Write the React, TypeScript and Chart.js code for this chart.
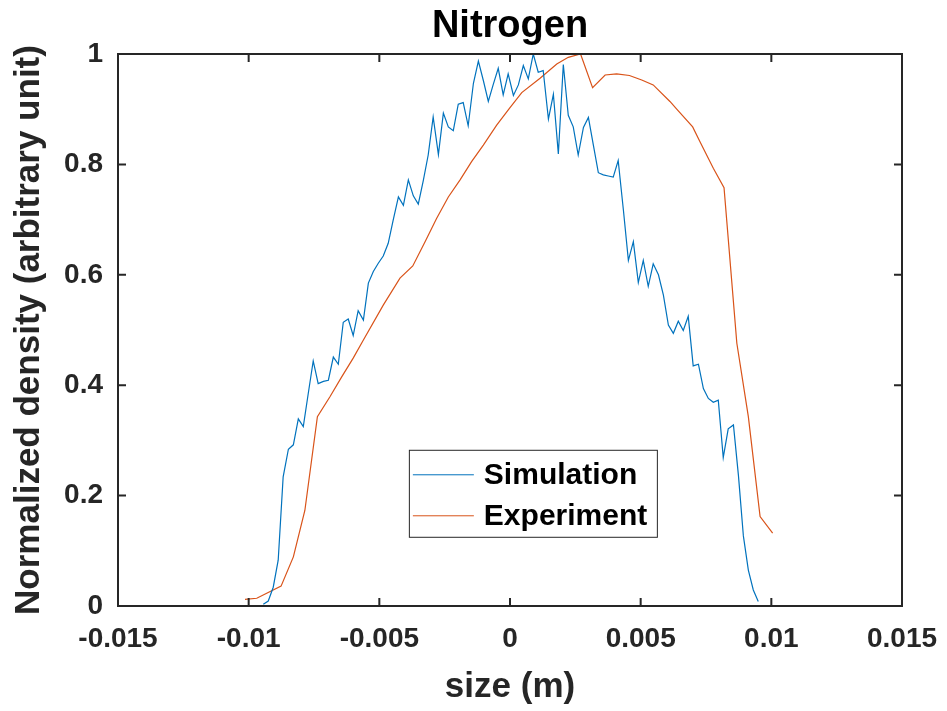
import React, { useEffect, useRef } from "react";
import { Chart, registerables } from "chart.js";

Chart.register(...registerables);

const titleText = "Nitrogen";
const xAxisTitle = "size (m)";
const yAxisTitle = "Normalized density (arbitrary unit)";
const seriesNames = ["Simulation", "Experiment"];
const seriesColors = ["#0072BD", "#D95319"];

const xTickValues = [-0.015, -0.01, -0.005, 0, 0.005, 0.01, 0.015];
const xTickLabels = ["-0.015", "-0.01", "-0.005", "0", "0.005", "0.01", "0.015"];
const yTickValues = [0, 0.2, 0.4, 0.6, 0.8, 1];
const yTickLabels = ["0", "0.2", "0.4", "0.6", "0.8", "1"];

const simX = [
  -0.00944, -0.00925, -0.00906, -0.00887, -0.00868, -0.00848, -0.00829, -0.0081, -0.00791, -0.00772,
  -0.00753, -0.00734, -0.00714, -0.00695, -0.00676, -0.00657, -0.00638, -0.00619, -0.006, -0.00581,
  -0.00561, -0.00542, -0.00523, -0.00504, -0.00485, -0.00466, -0.00447, -0.00427, -0.00408, -0.00389,
  -0.0037, -0.00351, -0.00332, -0.00313, -0.00294, -0.00274, -0.00255, -0.00236, -0.00217, -0.00198,
  -0.00179, -0.0016, -0.0014, -0.00121, -0.00102, -0.00083, -0.00064, -0.00045, -0.00026, -0.00007,
  0.00013, 0.00032, 0.00051, 0.0007, 0.00089, 0.00108, 0.00127, 0.00147, 0.00166, 0.00185,
  0.00204, 0.00223, 0.00242, 0.00261, 0.00281, 0.003, 0.00319, 0.00338, 0.00357, 0.00376,
  0.00395, 0.00414, 0.00434, 0.00453, 0.00472, 0.00491, 0.0051, 0.00529, 0.00548, 0.00568,
  0.00587, 0.00606, 0.00625, 0.00644, 0.00663, 0.00682, 0.00701, 0.00721, 0.0074, 0.00759,
  0.00778, 0.00797, 0.00816, 0.00835, 0.00855, 0.00874, 0.00893, 0.00912, 0.00931, 0.0095,
];
const simY = [
  0.003, 0.009, 0.034, 0.083, 0.234, 0.284, 0.292, 0.339, 0.325, 0.385,
  0.444, 0.403, 0.407, 0.409, 0.451, 0.438, 0.514, 0.52, 0.49, 0.535,
  0.518, 0.585, 0.606, 0.621, 0.634, 0.657, 0.699, 0.741, 0.726, 0.772,
  0.743, 0.728, 0.77, 0.817, 0.886, 0.818, 0.893, 0.868, 0.861, 0.909,
  0.912, 0.87, 0.947, 0.987, 0.952, 0.914, 0.945, 0.974, 0.926, 0.964,
  0.925, 0.944, 0.979, 0.955, 1.0, 0.967, 0.97, 0.882, 0.927, 0.819,
  0.981, 0.889, 0.868, 0.817, 0.867, 0.885, 0.835, 0.785, 0.781, 0.779,
  0.777, 0.807, 0.717, 0.626, 0.66, 0.586, 0.626, 0.579, 0.62, 0.6,
  0.563, 0.509, 0.494, 0.516, 0.499, 0.525, 0.435, 0.438, 0.394, 0.376,
  0.369, 0.373, 0.269, 0.321, 0.328, 0.237, 0.127, 0.065, 0.029, 0.008,
];

const expX = [
  -0.01014, -0.00969, -0.00876, -0.00829, -0.00785, -0.00737, -0.00689, -0.00644, -0.006, -0.00561,
  -0.00485, -0.00421, -0.00372, -0.00325, -0.00281, -0.00236, -0.00191, -0.00147, -0.00102, -0.00051,
  0.0, 0.00045, 0.00115, 0.00179, 0.00223, 0.0027, 0.00316, 0.00364, 0.00408, 0.00457,
  0.00504, 0.00548, 0.00612, 0.00638, 0.00699, 0.00727, 0.00778, 0.00819, 0.00868, 0.00912,
  0.00957, 0.01005,
];
const expY = [
  0.012, 0.014, 0.036, 0.089, 0.173, 0.343, 0.379, 0.415, 0.449, 0.482,
  0.545, 0.594, 0.616, 0.66, 0.702, 0.741, 0.772, 0.805, 0.835, 0.871,
  0.903, 0.93, 0.956, 0.982, 0.994, 1.0, 0.939, 0.962, 0.964, 0.961,
  0.953, 0.944, 0.914, 0.9, 0.868, 0.841, 0.793, 0.758, 0.476, 0.343,
  0.162, 0.132,
];

const FONT = "'Liberation Sans', Arial, Helvetica, sans-serif";
const AXIS_COLOR = "#262626";

const framePlugin = {
  id: "matlabFrame",
  afterDatasetsDraw(chart: any) {
    const { ctx, chartArea: a, scales } = chart;
    const tick = 8;
    ctx.save();
    ctx.strokeStyle = AXIS_COLOR;
    ctx.lineWidth = 2;
    ctx.strokeRect(a.left, a.top, a.right - a.left, a.bottom - a.top);
    ctx.beginPath();
    for (const v of xTickValues) {
      const px = scales.x.getPixelForValue(v);
      ctx.moveTo(px, a.bottom);
      ctx.lineTo(px, a.bottom - tick);
      ctx.moveTo(px, a.top);
      ctx.lineTo(px, a.top + tick);
    }
    for (const v of yTickValues) {
      const py = scales.y.getPixelForValue(v);
      ctx.moveTo(a.left, py);
      ctx.lineTo(a.left + tick, py);
      ctx.moveTo(a.right, py);
      ctx.lineTo(a.right - tick, py);
    }
    ctx.stroke();
    ctx.restore();
  },
  afterDraw(chart: any) {
    const { ctx, chartArea: a } = chart;
    const w = a.right - a.left;
    const h = a.bottom - a.top;
    const bx = a.left + w * 0.371;
    const by = a.top + h * 0.717;
    const bw = 248;
    const bh = 87;
    ctx.save();
    ctx.fillStyle = "#ffffff";
    ctx.fillRect(bx, by, bw, bh);
    ctx.strokeStyle = AXIS_COLOR;
    ctx.lineWidth = 1;
    ctx.strokeRect(bx + 0.5, by + 0.5, bw, bh);
    ctx.font = `bold 30px ${FONT}`;
    ctx.textBaseline = "middle";
    ctx.textAlign = "left";
    seriesNames.forEach((name, i) => {
      const y = by + 25 + i * 41;
      ctx.strokeStyle = seriesColors[i];
      ctx.lineWidth = 1;
      ctx.beginPath();
      ctx.moveTo(bx + 4, y);
      ctx.lineTo(bx + 65, y);
      ctx.stroke();
      ctx.fillStyle = "#000000";
      ctx.fillText(name, bx + 75, y + 1);
    });
    ctx.restore();
  },
};

export default function App() {
  const canvasRef = useRef<HTMLCanvasElement | null>(null);

  useEffect(() => {
    const canvas = canvasRef.current;
    if (!canvas) return;
    const chart = new Chart(canvas, {
      type: "line",
      data: {
        datasets: [
          {
            label: seriesNames[0],
            data: simX.map((x, i) => ({ x, y: simY[i] })),
            borderColor: seriesColors[0],
            borderWidth: 1.2,
            pointRadius: 0,
            fill: false,
            tension: 0,
          },
          {
            label: seriesNames[1],
            data: expX.map((x, i) => ({ x, y: expY[i] })),
            borderColor: seriesColors[1],
            borderWidth: 1.2,
            pointRadius: 0,
            fill: false,
            tension: 0,
          },
        ],
      },
      options: {
        animation: false,
        responsive: false,
        maintainAspectRatio: false,
        layout: { padding: { left: 0, right: 45, top: 0, bottom: 0 } },
        plugins: {
          legend: { display: false },
          tooltip: { enabled: false },
          title: {
            display: true,
            text: titleText,
            fullSize: false,
            color: "#000000",
            font: { family: FONT, size: 38, weight: "bold", lineHeight: 1.2 },
            padding: { top: 4, bottom: 4.4 },
          },
        },
        scales: {
          x: {
            type: "linear",
            min: -0.015,
            max: 0.015,
            afterFit(scale: any) {
              scale.height = 105;
              scale.paddingLeft = 0;
              scale.paddingRight = 0;
            },
            afterBuildTicks(scale: any) {
              scale.ticks = xTickValues.map((v) => ({ value: v }));
            },
            ticks: {
              autoSkip: false,
              maxRotation: 0,
              padding: 16,
              color: AXIS_COLOR,
              font: { family: FONT, size: 28, weight: "bold" },
              callback: (_v: any, i: number) => xTickLabels[i],
            },
            grid: { display: false, drawTicks: false },
            border: { display: false },
            title: {
              display: true,
              text: xAxisTitle,
              color: AXIS_COLOR,
              font: { family: FONT, size: 35, weight: "bold", lineHeight: 1.2 },
              padding: { top: 0, bottom: 3 },
            },
          },
          y: {
            type: "linear",
            min: 0,
            max: 1,
            afterFit(scale: any) {
              scale.width = 118;
              scale.paddingTop = 0;
              scale.paddingBottom = 0;
            },
            afterBuildTicks(scale: any) {
              scale.ticks = yTickValues.map((v) => ({ value: v }));
            },
            ticks: {
              autoSkip: false,
              padding: 15,
              color: AXIS_COLOR,
              font: { family: FONT, size: 28, weight: "bold" },
              callback: (_v: any, i: number) => yTickLabels[i],
            },
            grid: { display: false, drawTicks: false },
            border: { display: false },
            title: {
              display: true,
              text: yAxisTitle,
              color: AXIS_COLOR,
              font: { family: FONT, size: 35, weight: "bold", lineHeight: 1.2 },
              padding: { top: 8, bottom: 0 },
            },
          },
        },
      },
      plugins: [framePlugin],
    });
    return () => chart.destroy();
  }, []);

  return (
    <div style={{ position: "fixed", left: 0, top: 0, width: 947, height: 711, background: "#ffffff" }}>
      <canvas ref={canvasRef} width={947} height={711} />
    </div>
  );
}
